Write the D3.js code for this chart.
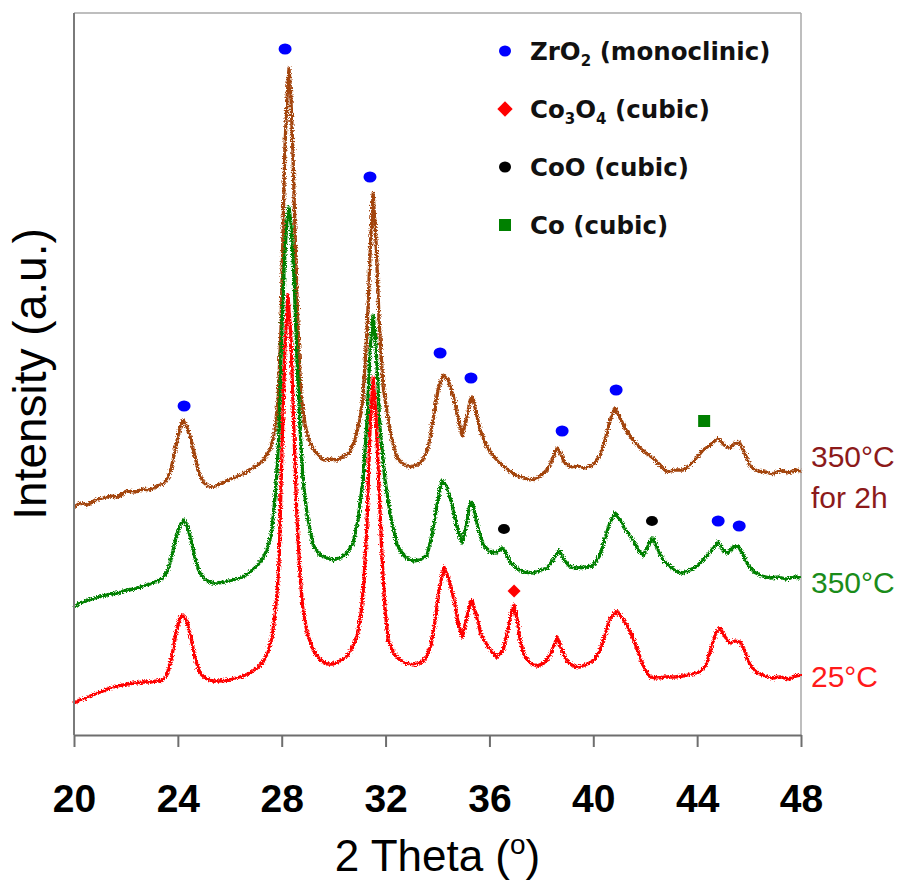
<!DOCTYPE html>
<html>
<head>
<meta charset="utf-8">
<script src="https://cdn.jsdelivr.net/npm/d3@7"></script>
<style>
  html, body { margin: 0; padding: 0; background: #ffffff; }
  svg { display: block; }
</style>
</head>
<body>
<svg id="chart" width="900" height="883"></svg>
<script>
// XRD patterns of Co/ZrO2 samples, [2theta (deg), intensity (a.u.)]
const pattern25C = [
  [20.00,32],[20.23,35],[20.54,38],[20.81,41],[21.12,44],[21.39,47],[21.69,49],[22.04,51],
  [22.35,52],[22.66,53],[22.93,53],[23.20,54],[23.43,55],[23.62,63],[23.78,80],[23.93,103],
  [24.08,117],[24.20,120],[24.35,113],[24.51,97],[24.66,77],[24.85,62],[25.05,57],[25.32,54],
  [25.62,54],[25.93,55],[26.24,57],[26.51,59],[26.78,62],[27.05,67],[27.28,73],[27.47,83],
  [27.63,98],[27.74,120],[27.82,142],[27.90,175],[28.01,285],[28.12,385],[28.24,440],[28.35,400],
  [28.47,305],[28.59,215],[28.71,158],[28.82,125],[28.98,102],[29.21,85],[29.48,75],[29.75,71],
  [29.98,71],[30.25,74],[30.52,79],[30.71,87],[30.90,98],[31.06,123],[31.17,155],[31.29,215],
  [31.40,305],[31.52,358],[31.63,320],[31.75,245],[31.87,175],[31.98,125],[32.10,95],[32.29,83],
  [32.44,78],[32.75,72],[33.06,70],[33.33,72],[33.56,77],[33.75,90],[33.91,115],[34.06,145],
  [34.25,168],[34.45,155],[34.64,135],[34.79,113],[34.95,98],[35.11,115],[35.26,133],[35.33,135],
  [35.49,120],[35.68,100],[35.91,90],[36.10,83],[36.29,78],[36.53,85],[36.72,105],[36.84,122],
  [36.95,130],[37.07,115],[37.18,95],[37.33,80],[37.56,72],[37.84,69],[38.10,72],[38.34,80],
  [38.49,90],[38.61,98],[38.76,87],[38.95,75],[39.22,69],[39.49,68],[39.76,71],[40.03,75],
  [40.26,85],[40.45,100],[40.65,117],[40.92,124],[41.11,117],[41.30,110],[41.53,97],[41.80,78],
  [42.00,65],[42.19,58],[42.50,57],[42.80,58],[43.15,58],[43.46,59],[43.81,61],[44.11,63],
  [44.34,70],[44.58,90],[44.73,103],[44.88,107],[45.08,98],[45.27,92],[45.46,94],[45.66,93],
  [45.85,83],[46.04,70],[46.31,62],[46.62,59],[46.89,57],[47.20,58],[47.50,56],[47.77,59],[48.00,60]
];

const pattern350C = [
  [20.00,128],[20.23,132],[20.54,135],[20.81,137],[21.12,139],[21.39,141],[21.69,142],[22.04,145],
  [22.35,146],[22.66,149],[22.93,151],[23.20,154],[23.43,157],[23.62,165],[23.78,180],[23.93,198],
  [24.08,210],[24.24,215],[24.39,207],[24.55,190],[24.70,173],[24.85,162],[25.08,155],[25.32,152],
  [25.51,152],[25.82,153],[26.12,155],[26.51,158],[26.78,163],[27.05,169],[27.28,177],[27.43,185],
  [27.59,200],[27.70,225],[27.82,265],[27.90,305],[27.97,375],[28.09,465],[28.20,515],[28.28,528],
  [28.35,513],[28.47,460],[28.59,375],[28.71,305],[28.82,255],[28.98,220],[29.21,190],[29.48,180],
  [29.75,177],[29.98,175],[30.25,177],[30.52,182],[30.75,192],[30.94,215],[31.13,255],[31.29,315],
  [31.40,385],[31.52,420],[31.63,390],[31.79,305],[31.98,255],[32.17,222],[32.44,190],[32.71,179],
  [33.02,174],[33.33,175],[33.60,180],[33.79,200],[33.98,230],[34.18,255],[34.37,248],[34.56,230],
  [34.75,208],[34.95,192],[35.11,210],[35.26,233],[35.37,230],[35.53,210],[35.76,190],[36.03,183],
  [36.26,182],[36.49,187],[36.64,182],[36.80,173],[37.03,167],[37.33,163],[37.68,162],[37.99,165],
  [38.22,167],[38.45,175],[38.68,185],[38.88,175],[39.11,168],[39.41,167],[39.72,168],[39.99,169],
  [40.26,180],[40.45,197],[40.65,213],[40.84,222],[41.03,215],[41.26,205],[41.53,195],[41.73,185],
  [41.92,179],[42.11,190],[42.30,197],[42.50,185],[42.69,175],[42.96,168],[43.23,163],[43.46,162],
  [43.73,165],[44.00,169],[44.23,175],[44.50,183],[44.81,193],[45.00,185],[45.19,182],[45.39,188],
  [45.58,189],[45.77,180],[45.96,170],[46.19,163],[46.50,159],[46.81,157],[47.12,158],[47.43,156],
  [47.74,158],[48.00,157]
];

const pattern350C2h = [
  [20.00,228],[20.23,232],[20.54,230],[20.81,235],[21.12,237],[21.39,239],[21.69,238],[22.04,244],
  [22.35,243],[22.66,246],[22.93,245],[23.20,249],[23.43,251],[23.62,257],[23.78,270],[23.93,290],
  [24.08,307],[24.20,315],[24.31,310],[24.47,299],[24.62,283],[24.78,265],[24.97,253],[25.16,249],
  [25.35,248],[25.62,251],[25.93,255],[26.24,258],[26.51,261],[26.78,265],[27.01,269],[27.24,273],
  [27.43,280],[27.59,288],[27.74,305],[27.86,335],[27.97,405],[28.05,505],[28.12,585],[28.20,635],
  [28.28,667],[28.35,640],[28.43,585],[28.51,505],[28.63,405],[28.74,340],[28.90,310],[29.09,292],
  [29.32,282],[29.59,275],[29.86,276],[30.13,275],[30.40,279],[30.63,283],[30.82,295],[31.02,317],
  [31.13,338],[31.29,405],[31.40,480],[31.52,542],[31.63,495],[31.75,415],[31.90,350],[32.06,322],
  [32.25,295],[32.44,277],[32.67,271],[32.94,268],[33.21,270],[33.44,275],[33.64,287],[33.83,315],
  [34.02,345],[34.21,360],[34.41,355],[34.60,340],[34.79,317],[34.95,299],[35.11,315],[35.26,335],
  [35.33,338],[35.45,327],[35.64,305],[35.91,288],[36.22,277],[36.49,270],[36.80,263],[37.10,259],
  [37.41,256],[37.68,255],[37.95,259],[38.22,265],[38.41,275],[38.61,287],[38.72,283],[38.88,273],
  [39.11,268],[39.38,269],[39.68,267],[39.99,270],[40.26,280],[40.45,295],[40.65,315],[40.84,327],
  [41.03,317],[41.26,305],[41.53,295],[41.80,287],[42.07,281],[42.30,277],[42.57,270],[42.84,263],
  [43.15,265],[43.46,265],[43.73,270],[44.00,278],[44.23,285],[44.50,290],[44.81,297],[45.04,290],
  [45.27,287],[45.46,292],[45.62,293],[45.81,283],[46.04,269],[46.31,264],[46.62,263],[46.93,261],
  [47.20,265],[47.50,262],[47.77,265],[48.00,264]
];

// Phase reflections marked above the patterns, [2theta, intensity]
const zro2Marks = [[24.24,329],[28.13,686],[31.40,558],[34.10,382],[35.29,357],[38.80,304],[40.88,345],[44.81,214],[45.62,209]];
const co3o4Marks = [[36.95,144]];
const cooMarks = [[36.56,206],[42.26,214]];
const coMarks = [[44.27,314]];

const xTicks = [20, 24, 28, 32, 36, 40, 44, 48];

const seriesNames = ["25°C", "350°C", "350°C for 2h"];
const seriesColors = ["#ff0000", "#008000", "#a3450f"];
const labelColors = ["#ff1a1a", "#1a8c1a", "#8c1a1a"];

const legendItems = [
  {shape: "circle", color: "#0000ff", parts: [["ZrO",0],["2",1],[" (monoclinic)",0]]},
  {shape: "diamond", color: "#ff0000", parts: [["Co",0],["3",1],["O",0],["4",1],[" (cubic)",0]]},
  {shape: "circle", color: "#000000", parts: [["CoO (cubic)",0]]},
  {shape: "square", color: "#008000", parts: [["Co (cubic)",0]]}
];

const svg = d3.select("#chart");
const margin = {left: 74, right: 99, top: 13, bottom: 148};
const W = 900, H = 883;
const x = d3.scaleLinear().domain([20, 48]).range([margin.left, W - margin.right]);
const y = d3.scaleLinear().domain([0, 722]).range([H - margin.bottom, margin.top]);

// slight grain on the traces, like a measured pattern
const defs = svg.append("defs");
const filt = defs.append("filter").attr("id", "grain")
  .attr("x", "-2%").attr("y", "-2%").attr("width", "104%").attr("height", "104%");
filt.append("feTurbulence").attr("type", "fractalNoise").attr("baseFrequency", 0.75)
  .attr("numOctaves", 2).attr("seed", 3).attr("result", "noise");
filt.append("feDisplacementMap").attr("in", "SourceGraphic").attr("in2", "noise")
  .attr("scale", 5).attr("xChannelSelector", "R").attr("yChannelSelector", "G");

// frame: top and right edges
svg.append("line").attr("x1", x(20)).attr("x2", x(48)).attr("y1", y(722)).attr("y2", y(722))
  .attr("stroke", "#a8a8a8").attr("stroke-width", 1.5);
svg.append("line").attr("x1", x(48)).attr("x2", x(48)).attr("y1", y(722)).attr("y2", y(0))
  .attr("stroke", "#a8a8a8").attr("stroke-width", 1.5);

// patterns
const line = d3.line().x(d => x(d[0])).y(d => y(d[1]));
const patterns = [pattern25C, pattern350C, pattern350C2h];
const traces = svg.append("g").attr("filter", "url(#grain)");
[2, 1, 0].forEach(i => {
  traces.append("path").datum(patterns[i])
    .attr("fill", "none").attr("stroke", seriesColors[i])
    .attr("stroke-width", 3.3).attr("stroke-linejoin", "round")
    .attr("d", line);
});

// y axis (no ticks)
svg.append("line").attr("x1", x(20)).attr("x2", x(20)).attr("y1", y(722)).attr("y2", y(0))
  .attr("stroke", "#7a7a7a").attr("stroke-width", 2);

// x axis
const xAxis = d3.axisBottom(x).tickValues(xTicks).tickSize(12).tickSizeOuter(0).tickPadding(10);
const gx = svg.append("g").attr("transform", `translate(0,${y(0)})`).call(xAxis);
gx.select(".domain").attr("stroke", "#6e6e6e").attr("stroke-width", 2);
gx.selectAll(".tick line").attr("stroke", "#6e6e6e").attr("stroke-width", 2);
gx.selectAll(".tick text")
  .attr("font-family", "'Liberation Sans', Arial, sans-serif")
  .attr("font-weight", "bold").attr("font-size", 39).attr("fill", "#000")
  .attr("y", 77).attr("dy", 0);

// axis titles
svg.append("text").attr("transform", "translate(46,374) rotate(-90)")
  .attr("text-anchor", "middle")
  .attr("font-family", "'Liberation Sans', Arial, sans-serif").attr("font-size", 46)
  .attr("fill", "#000").text("Intensity (a.u.)");

const xt = svg.append("text").attr("x", (x(20) + x(48)) / 2).attr("y", 871)
  .attr("text-anchor", "middle")
  .attr("font-family", "'Liberation Sans', Arial, sans-serif").attr("font-size", 44).attr("fill", "#000");
xt.append("tspan").text("2 Theta (");
xt.append("tspan").attr("font-size", 28).attr("dy", -17).text("o");
xt.append("tspan").attr("dy", 17).text(")");

// phase markers
function drawMarks(data, shape, color, size) {
  const g = svg.append("g");
  data.forEach(d => {
    const cx = x(d[0]), cy = y(d[1]);
    if (shape === "circle") {
      g.append("ellipse").attr("cx", cx).attr("cy", cy).attr("rx", size).attr("ry", size * 0.85).attr("fill", color);
    } else if (shape === "diamond") {
      g.append("path").attr("d", d3.symbol(d3.symbolDiamond2, size * size * 2.2)())
        .attr("transform", `translate(${cx},${cy})`).attr("fill", color);
    } else {
      g.append("rect").attr("x", cx - size).attr("y", cy - size).attr("width", size * 2).attr("height", size * 2).attr("fill", color);
    }
  });
}
drawMarks(zro2Marks, "circle", "#0000ff", 6.5);
drawMarks(co3o4Marks, "diamond", "#ff0000", 7);
drawMarks(cooMarks, "circle", "#000000", 6);
drawMarks(coMarks, "square", "#008000", 6);

// legend
const lg = svg.append("g");
legendItems.forEach((it, i) => {
  const rowY = 60 + i * 58;
  const mx = 505, my = rowY - 9;
  if (it.shape === "circle") {
    lg.append("ellipse").attr("cx", mx).attr("cy", my).attr("rx", 6).attr("ry", 5.5).attr("fill", it.color);
  } else if (it.shape === "diamond") {
    lg.append("path").attr("d", d3.symbol(d3.symbolDiamond2, 150)()).attr("transform", `translate(${mx},${my})`).attr("fill", it.color);
  } else {
    lg.append("rect").attr("x", mx - 6).attr("y", my - 6).attr("width", 12).attr("height", 12).attr("fill", it.color);
  }
  const t = lg.append("text").attr("x", 530).attr("y", rowY)
    .attr("font-family", "'DejaVu Sans', Verdana, sans-serif").attr("font-weight", "bold")
    .attr("font-size", 24.5).attr("fill", "#111");
  let sub = 0;
  it.parts.forEach(p => {
    const ts = t.append("tspan").text(p[0]);
    if (p[1] && !sub) { ts.attr("font-size", 15).attr("dy", 6); sub = 1; }
    else if (!p[1] && sub) { ts.attr("dy", -6); sub = 0; }
    else if (p[1]) { ts.attr("font-size", 15); }
  });
});

// sample labels at the right end
const endLabels = [
  {lines: ["25°C"], y: 687, c: 0},
  {lines: ["350°C"], y: 593, c: 1},
  {lines: ["350°C", "for 2h"], y: 467, c: 2}
];
endLabels.forEach(l => {
  const t = svg.append("text").attr("x", 811).attr("y", l.y)
    .attr("font-family", "'Liberation Sans', Arial, sans-serif").attr("font-size", 30)
    .attr("fill", labelColors[l.c]);
  l.lines.forEach((s, k) => t.append("tspan").attr("x", 811).attr("dy", k ? 41 : 0).text(s));
});
</script>
</body>
</html>
